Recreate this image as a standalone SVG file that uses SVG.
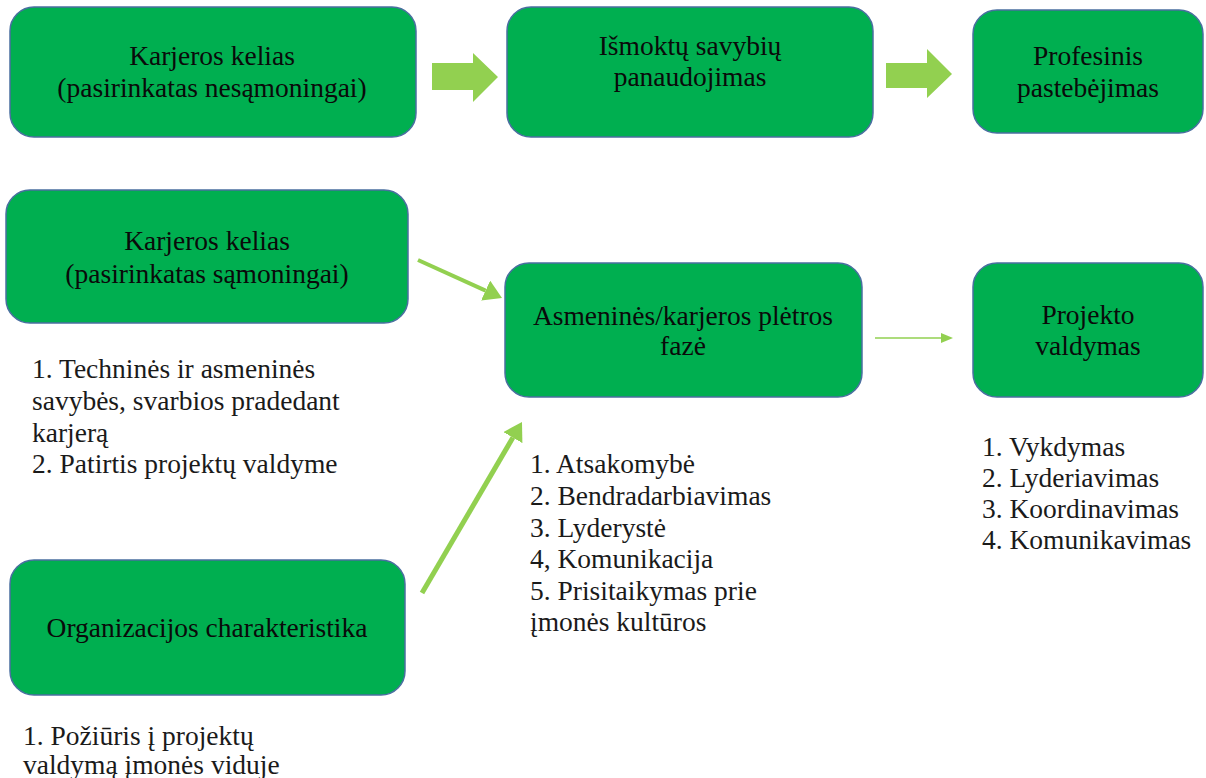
<svg xmlns="http://www.w3.org/2000/svg" width="1206" height="778" viewBox="0 0 1206 778">
<style>
.box{fill:#00AF50;stroke:#4A6FA0;stroke-width:1.5}
text{font-family:'Liberation Serif','Times New Roman','DejaVu Serif',serif;font-size:27.5px}
.t{fill:#0a0a0a}
.c{text-anchor:middle}
.l{fill:#1a1a1a}
.blk{fill:#92D050}
.ln{stroke:#92D050;fill:none}
</style>
<defs>
<marker id="ah" viewBox="0 0 18 22" refX="0" refY="11" markerWidth="18" markerHeight="22" markerUnits="userSpaceOnUse" orient="auto"><path d="M0,0 L18,11 L0,22 z" fill="#92D050"/></marker>
<marker id="ahs" viewBox="0 0 12 10" refX="0" refY="5" markerWidth="12" markerHeight="10" markerUnits="userSpaceOnUse" orient="auto"><path d="M0,0 L12,5 L0,10 z" fill="#92D050"/></marker>
</defs>
<rect width="1206" height="778" fill="#fff"/>
<g id="connectors">
<polygon class="blk" points="432,63 473,63 473,53 498,77 473,102 473,90 432,90"/>
<polygon class="blk" points="886,63 927,63 927,49 952,74 927,98 927,88 886,88"/>
<line class="ln" x1="418" y1="260" x2="485.6" y2="290.6" stroke-width="4" marker-end="url(#ah)"/>
<line class="ln" x1="422" y1="593" x2="512.9" y2="437.6" stroke-width="5" marker-end="url(#ah)"/>
<line class="ln" x1="875" y1="338" x2="941" y2="338" stroke-width="1.5" marker-end="url(#ahs)"/>
</g>
<g id="n1"><rect class="box" x="10" y="7" width="406" height="130" rx="24"/>
<text class="t c" x="212" y="65">Karjeros kelias</text><text class="t c" x="212" y="97">(pasirinkatas nesąmoningai)</text></g>
<g id="n2"><rect class="box" x="507" y="7" width="366" height="130" rx="24"/>
<text class="t c" x="690" y="55">Išmoktų savybių</text><text class="t c" x="690" y="86">panaudojimas</text></g>
<g id="n3"><rect class="box" x="973" y="10" width="230" height="123" rx="24"/>
<text class="t c" x="1088" y="65">Profesinis</text><text class="t c" x="1088" y="97">pastebėjimas</text></g>
<g id="n4"><rect class="box" x="6" y="190" width="402" height="133" rx="24"/>
<text class="t c" x="207" y="250">Karjeros kelias</text><text class="t c" x="207" y="283">(pasirinkatas sąmoningai)</text></g>
<g id="n4list">
<text class="l" x="32" y="378">1. Techninės ir asmeninės</text>
<text class="l" x="32" y="410">savybės, svarbios pradedant</text>
<text class="l" x="32" y="442">karjerą</text>
<text class="l" x="32" y="473">2. Patirtis projektų valdyme</text>
</g>
<g id="n5"><rect class="box" x="505" y="263" width="357" height="134" rx="24"/>
<text class="t c" x="683" y="325">Asmeninės/karjeros plėtros</text><text class="t c" x="683" y="355">fazė</text></g>
<g id="n5list">
<text class="l" x="530" y="473">1. Atsakomybė</text>
<text class="l" x="530" y="505">2. Bendradarbiavimas</text>
<text class="l" x="530" y="537">3. Lyderystė</text>
<text class="l" x="530" y="568">4, Komunikacija</text>
<text class="l" x="530" y="600">5. Prisitaikymas prie</text>
<text class="l" x="530" y="631">įmonės kultūros</text>
</g>
<g id="n6"><rect class="box" x="973" y="263" width="230" height="134" rx="24"/>
<text class="t c" x="1088" y="324">Projekto</text><text class="t c" x="1088" y="355">valdymas</text></g>
<g id="n6list">
<text class="l" x="982" y="456">1. Vykdymas</text>
<text class="l" x="982" y="487">2. Lyderiavimas</text>
<text class="l" x="982" y="518">3. Koordinavimas</text>
<text class="l" x="982" y="549">4. Komunikavimas</text>
</g>
<g id="n7"><rect class="box" x="10" y="560" width="395" height="135" rx="24"/>
<text class="t c" x="207" y="637">Organizacijos charakteristika</text></g>
<g id="n7list">
<text class="l" x="23" y="745">1. Požiūris į projektų</text>
<text class="l" x="23" y="774">valdymą įmonės viduje</text>
</g>
</svg>
